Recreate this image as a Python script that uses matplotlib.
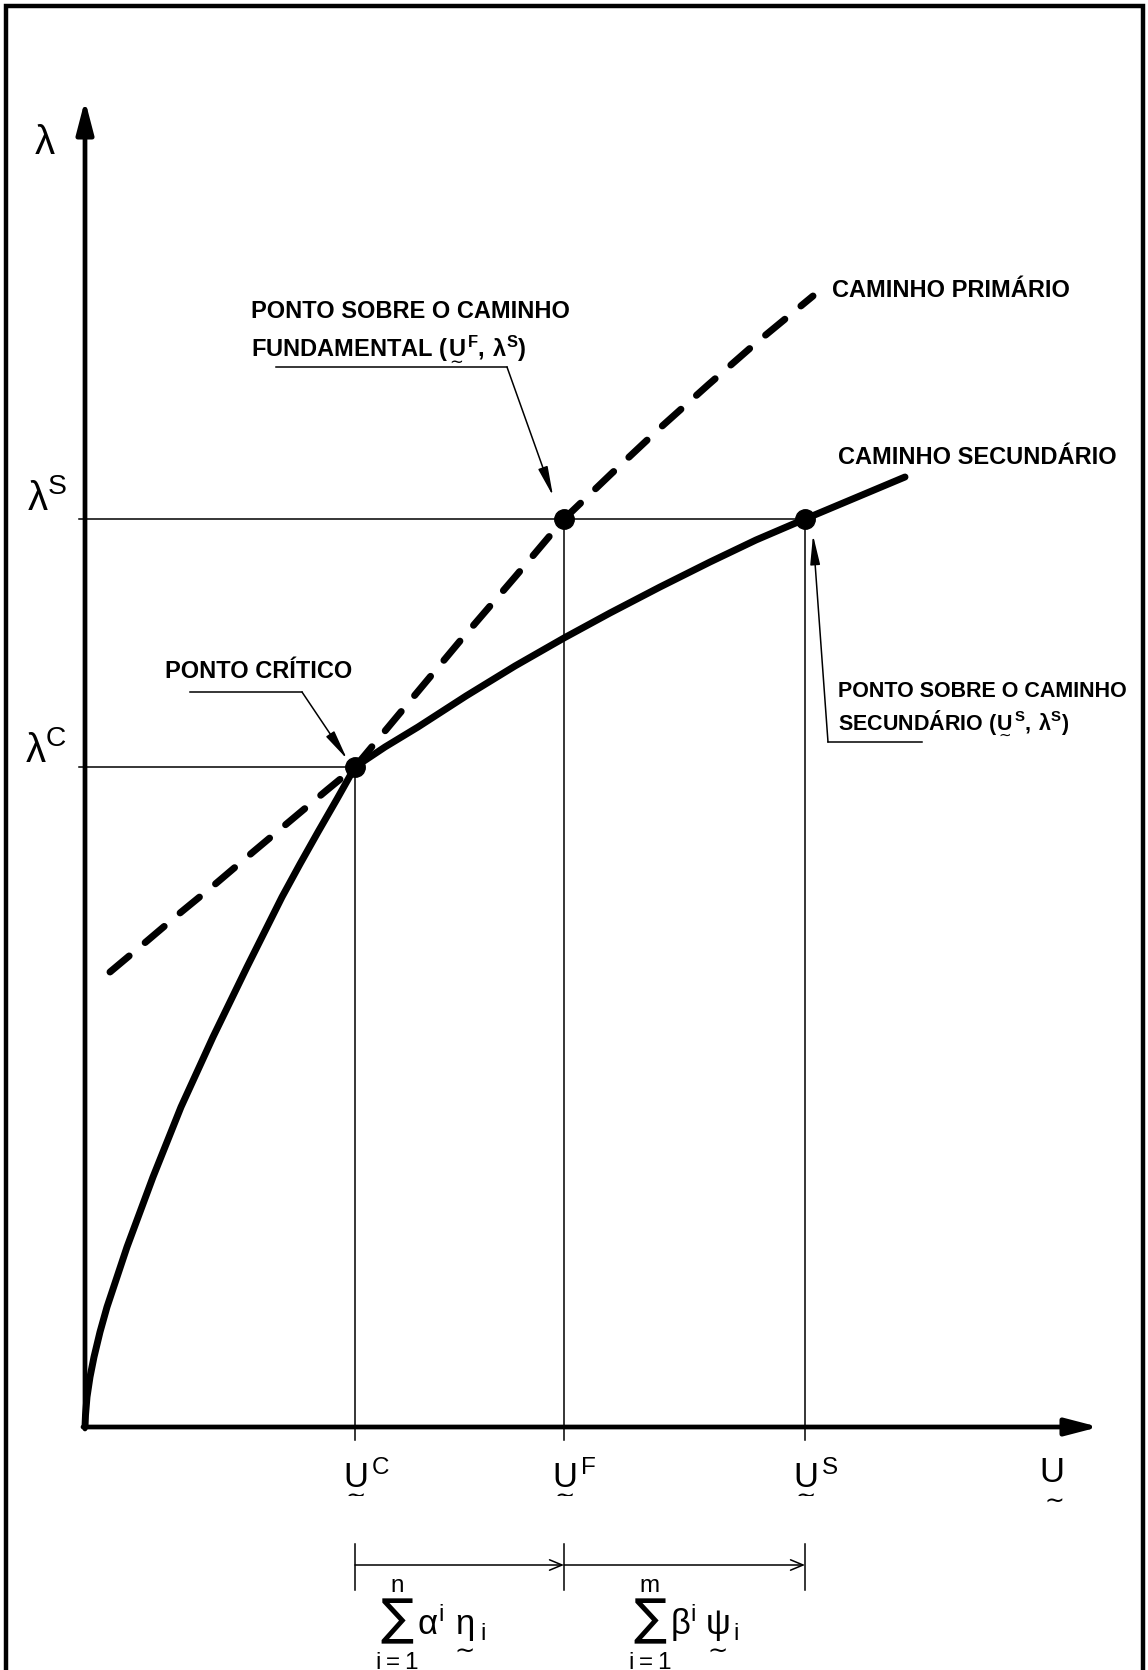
import matplotlib
matplotlib.use('Agg')
import matplotlib.pyplot as plt
from matplotlib import font_manager as fm
from matplotlib.patches import Rectangle

# fonte estreita para o letreiro, se existir
nomes = {f.name for f in fm.fontManager.ttflist}
fonte = 'DejaVu Sans'
for nome in ['Liberation Sans Narrow', 'Liberation Sans', 'Arimo']:
    if nome in nomes:
        fonte = nome
        break
plt.rcParams['font.family'] = [fonte, 'DejaVu Sans']
plt.rcParams['mathtext.fontset'] = 'dejavusans'
plt.rcParams['mathtext.default'] = 'regular'

# pontos notaveis (deslocamento U, parametro de carga lambda)
U_C, U_F, U_S = 2.70, 4.79, 7.20
LAM_C, LAM_S = 6.60, 9.08
U_MAX, LAM_MAX = 10.14, 13.27

# caminho secundario (linha cheia)
sec_u = [0.00, 0.005, 0.02, 0.05, 0.09, 0.15, 0.22, 0.32, 0.42, 0.55, 0.68, 0.82, 0.96,
         1.12, 1.28, 1.45, 1.62, 1.80, 1.97, 2.15, 2.33, 2.52, 2.70,
         3.00, 3.33, 3.81, 4.30, 4.79, 5.25, 5.75, 6.25, 6.71, 7.20, 7.70, 8.20]
sec_lam = [0.00, 0.12, 0.30, 0.50, 0.70, 0.95, 1.20, 1.50, 1.80, 2.15, 2.50, 2.85, 3.20,
           3.55, 3.90, 4.25, 4.60, 4.96, 5.30, 5.63, 5.95, 6.28, 6.60,
           6.80, 7.00, 7.31, 7.61, 7.89, 8.14, 8.40, 8.65, 8.87, 9.08, 9.29, 9.50]

# caminho primario (tracejado)
pri_u = [0.25, 0.62, 0.95, 1.28, 1.68, 2.05, 2.42, 2.70, 3.20, 3.75, 4.30, 4.79,
         5.26, 5.75, 6.23, 6.71, 7.28]
pri_lam = [4.55, 4.86, 5.14, 5.41, 5.75, 6.06, 6.37, 6.60, 7.20, 7.86, 8.50, 9.08,
           9.53, 9.99, 10.42, 10.84, 11.31]

# rotulos sob o eixo U
rot_u = [U_C, U_F, U_S]
rot_sup = ['C', 'F', 'S']

TIL = r'\underset{\mathrm{\sim}}{U}'

fig = plt.figure(figsize=(11.48, 16.70), dpi=100)
ax = fig.add_axes([0, 0, 1, 1])
ax.set_xlim(-0.85, 10.63)
ax.set_ylim(-2.43, 14.27)
ax.axis('off')

# moldura
ax.add_patch(Rectangle((-0.79, -2.80), 11.37, 17.01, fill=False, lw=3.2, ec='k'))

# eixos com seta
seta_eixo = dict(arrowstyle='-|>,head_length=0.5,head_width=0.13', mutation_scale=40,
                 lw=3.4, color='k', shrinkA=0, shrinkB=0)
ax.annotate('', xy=(0, LAM_MAX), xytext=(0, -0.02), arrowprops=seta_eixo)
ax.annotate('', xy=(U_MAX, 0), xytext=(-0.02, 0), arrowprops=seta_eixo)

# linhas de referencia
fino = dict(color='k', lw=1.1)
ax.plot([-0.06, U_S], [LAM_S, LAM_S], **fino)
ax.plot([-0.06, U_C], [LAM_C, LAM_C], **fino)
for u, lam in [(U_C, LAM_C), (U_F, LAM_S), (U_S, LAM_S)]:
    ax.plot([u, u], [lam, -0.13], **fino)

# caminhos
ax.plot(sec_u, sec_lam, color='k', lw=5, solid_capstyle='round', solid_joinstyle='round')
ax.plot(pri_u, pri_lam, color='k', lw=5, dashes=(3.6, 3.0), dash_capstyle='round')
ax.plot([U_C, U_F, U_S], [LAM_C, LAM_S, LAM_S], 'o', ms=14, color='k')

# rotulos dos eixos
ax.text(-0.40, 12.84, r'$\lambda$', fontsize=29, ha='center', va='center')
ax.text(-0.18, 9.28, r'$\lambda^{S}$', fontsize=29, ha='right', va='center')
ax.text(-0.18, 6.77, r'$\lambda^{C}$', fontsize=29, ha='right', va='center')
for u, sup in zip(rot_u, rot_sup):
    ax.text(u - 0.14, -0.55, r'${%s}^{%s}$' % (TIL, sup), fontsize=25, ha='left',
            va='baseline')
# U do eixo: letra e til em separado
ax.text(9.67, -0.55, 'U', fontsize=25, ha='center', va='baseline')
ax.text(9.67, -0.63, r'$\mathrm{\sim}$', fontsize=17, ha='center', va='top')

# cotas sob o eixo
for u in [U_C, U_F, U_S]:
    ax.plot([u, u], [-1.17, -1.63], **fino)
seta_cota = dict(arrowstyle='->,head_length=0.6,head_width=0.25', mutation_scale=15,
                 lw=1.1, color='k', shrinkA=0, shrinkB=0)
ax.annotate('', xy=(U_F, -1.38), xytext=(U_C, -1.38), arrowprops=seta_cota)
ax.annotate('', xy=(U_S, -1.38), xytext=(U_F, -1.38), arrowprops=seta_cota)
ax.text(3.45, -1.98, r'$\sum_{i=1}^{n}\alpha^{i}\,{\underset{\mathrm{\sim}}{\eta}}_{i}$',
        fontsize=25, ha='center', va='center')
ax.text(5.98, -1.98, r'$\sum_{i=1}^{m}\beta^{i}\,{\underset{\mathrm{\sim}}{\psi}}_{i}$',
        fontsize=25, ha='center', va='center')

# legendas dos caminhos
txt = dict(fontsize=17, fontweight='bold', va='baseline', ha='left')
ax.text(7.47, 11.30, 'CAMINHO PRIMÁRIO', **txt)
ax.text(7.53, 9.63, 'CAMINHO SECUNDÁRIO', **txt)

# chamadas com seta
seta_fina = dict(arrowstyle='-|>,head_length=0.9,head_width=0.15', mutation_scale=20,
                 lw=1.1, color='k', shrinkA=0, shrinkB=0)

ax.text(1.66, 11.09, 'PONTO SOBRE O CAMINHO', **txt)
ax.text(1.66, 10.74, r'FUNDAMENTAL $({%s}^{F},\,\lambda^{S})$' % TIL, **txt)
ax.plot([1.91, 4.22], [10.60, 10.60], **fino)
ax.annotate('', xy=(4.68, 9.31), xytext=(4.22, 10.60), arrowprops=seta_fina)

ax.text(0.80, 7.49, 'PONTO CRÍTICO', **txt)
ax.plot([1.05, 2.17], [7.35, 7.35], **fino)
ax.annotate('', xy=(2.62, 6.68), xytext=(2.17, 7.35), arrowprops=seta_fina)

txt2 = dict(txt, fontsize=15.5)
ax.text(7.53, 7.30, 'PONTO SOBRE O CAMINHO', **txt2)
ax.text(7.53, 7.00, r'SECUNDÁRIO $({%s}^{S},\,\lambda^{S})$' % TIL, **txt2)
ax.plot([7.43, 8.37], [6.85, 6.85], **fino)
ax.annotate('', xy=(7.28, 8.92), xytext=(7.43, 6.85), arrowprops=seta_fina)

fig.savefig('out.png', dpi=100, facecolor='white')
